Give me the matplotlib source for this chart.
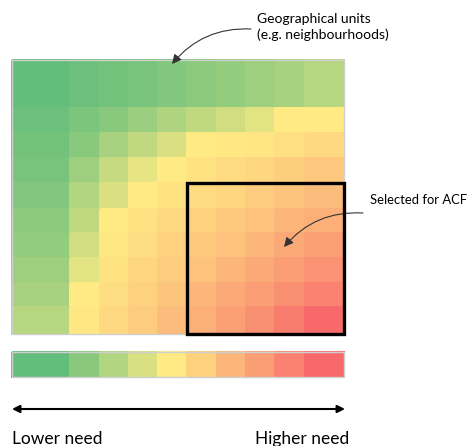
import matplotlib
matplotlib.use("Agg")
import matplotlib.pyplot as plt
import numpy as np
from matplotlib.colors import LinearSegmentedColormap
from matplotlib.patches import Rectangle

# ---- data (need score 0 = lowest, 1 = highest) ----
row0 = [0.00, 0.03, 0.05, 0.07, 0.10, 0.13, 0.16, 0.19, 0.22, 0.27]
row1 = [0.03, 0.08, 0.12, 0.18, 0.24, 0.30, 0.35, 0.41, 0.50, 0.50]
row2 = [0.05, 0.12, 0.22, 0.30, 0.38, 0.50, 0.51, 0.52, 0.54, 0.57]
row3 = [0.07, 0.19, 0.32, 0.42, 0.50, 0.53, 0.56, 0.58, 0.61, 0.64]
row4 = [0.10, 0.25, 0.38, 0.50, 0.53, 0.56, 0.58, 0.62, 0.65, 0.68]
row5 = [0.13, 0.30, 0.50, 0.53, 0.57, 0.60, 0.63, 0.66, 0.70, 0.73]
row6 = [0.16, 0.35, 0.51, 0.55, 0.60, 0.63, 0.66, 0.70, 0.75, 0.79]
row7 = [0.19, 0.41, 0.53, 0.58, 0.62, 0.66, 0.70, 0.75, 0.80, 0.84]
row8 = [0.22, 0.50, 0.55, 0.60, 0.65, 0.70, 0.75, 0.80, 0.85, 0.90]
row9 = [0.27, 0.51, 0.57, 0.62, 0.68, 0.73, 0.79, 0.85, 0.92, 1.00]
legend_values = [0.0, 0.125, 0.25, 0.375, 0.5, 0.6, 0.7, 0.8, 0.9, 1.0]
label_low = "Lower need"
label_high = "Higher need"
label_units = "Geographical units\n(e.g. neighbourhoods)"
label_selected = "Selected for ACF"

grid = np.array([row0, row1, row2, row3, row4, row5, row6, row7, row8, row9])

# ---- layout (pixel space) ----
W, H = 473, 446
col_edges = [12, 70, 100, 129, 158, 187, 217, 246, 275, 305, 344]
row_edges = [60, 108, 133, 158, 183, 209, 233, 258, 283, 307, 334]

cmap = LinearSegmentedColormap.from_list(
    "excel", [(0.0, "#63BE7B"), (0.5, "#FFEB84"), (1.0, "#F8696B")])

fig = plt.figure(figsize=(W / 100, H / 100), dpi=100)
ax = fig.add_axes([0, 0, 1, 1])
ax.set_xlim(0, W)
ax.set_ylim(H, 0)
ax.axis("off")

ax.pcolormesh(col_edges, row_edges, grid, cmap=cmap, vmin=0, vmax=1,
              edgecolor="face", linewidth=0.3)
ax.add_patch(Rectangle((col_edges[0], row_edges[0]),
                       col_edges[-1] - col_edges[0], row_edges[-1] - row_edges[0],
                       fill=False, edgecolor="#CFCFCF", lw=1.0))

# selection box (cols 5-9, rows 4-9)
ax.add_patch(Rectangle((col_edges[5], row_edges[4]),
                       col_edges[-1] - col_edges[5], row_edges[-1] - row_edges[4],
                       fill=False, edgecolor="black", lw=2.4, zorder=5))

# legend bar
bar_top, bar_bot = 352, 377
ax.pcolormesh(col_edges, [bar_top, bar_bot], np.array([legend_values]),
              cmap=cmap, vmin=0, vmax=1, edgecolor="face", linewidth=0.3)
ax.add_patch(Rectangle((col_edges[0], bar_top), col_edges[-1] - col_edges[0],
                       bar_bot - bar_top, fill=False, edgecolor="#CFCFCF", lw=1.0))

# double arrow
ax.annotate("", xy=(col_edges[-1] + 1, 409), xytext=(col_edges[0], 409),
            arrowprops=dict(arrowstyle="<|-|>", lw=1.5, color="black",
                            mutation_scale=11, shrinkA=0, shrinkB=0))

font = ["Lato", "DejaVu Sans"]
ax.text(col_edges[0], 439, label_low, fontsize=12.5, family=font,
        ha="left", va="center", color="black")
ax.text(349, 439, label_high, fontsize=12.5, family=font,
        ha="right", va="center", color="black")

ax.text(257, 27, label_units, fontsize=10, family=font, ha="left",
        va="center", linespacing=1.3, color="black")
ax.annotate("", xy=(172, 64), xytext=(251, 29),
            arrowprops=dict(arrowstyle="-|>", lw=0.8, color="#333333",
                            mutation_scale=14, shrinkA=0, shrinkB=0,
                            connectionstyle="arc3,rad=0.25"))

ax.text(370, 200, label_selected, fontsize=9.4, family=font, ha="left",
        va="center", color="black")
ax.annotate("", xy=(284, 247), xytext=(363, 213),
            arrowprops=dict(arrowstyle="-|>", lw=0.8, color="#333333",
                            mutation_scale=14, shrinkA=0, shrinkB=0,
                            connectionstyle="arc3,rad=0.25"))

fig.savefig("out.png", dpi=100)
